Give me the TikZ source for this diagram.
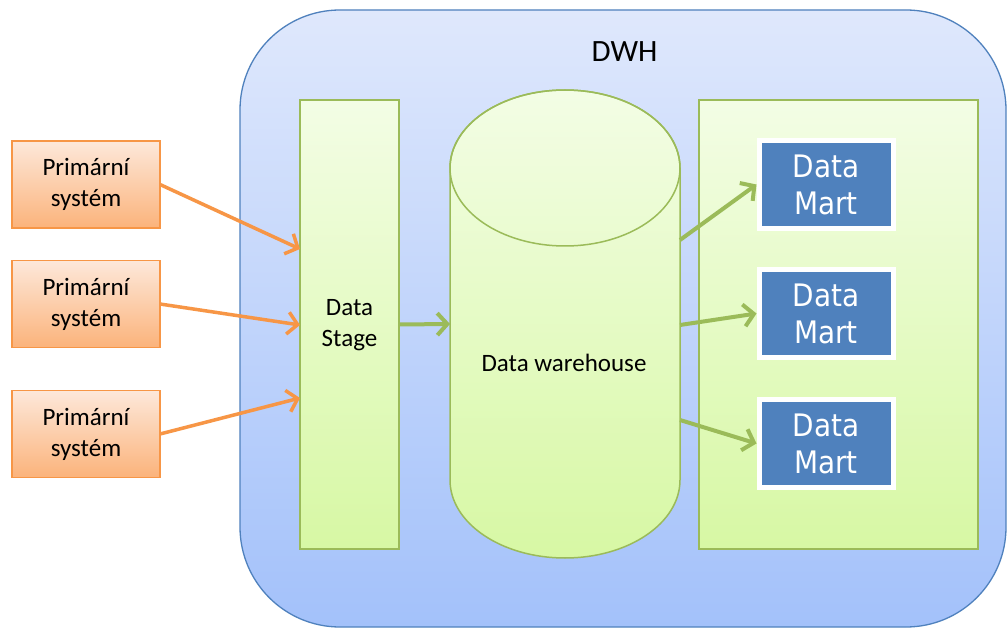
\documentclass[tikz,border=0pt]{standalone}
\usepackage{fontspec}
\setmainfont{Carlito}
\newfontfamily\martfont{DejaVu Sans Condensed}
\usetikzlibrary{arrows.meta}
\definecolor{dwhtop}{HTML}{DFE8FC}
\definecolor{dwhbot}{HTML}{A3C1FA}
\definecolor{dwhline}{HTML}{4F81BD}
\definecolor{grtop}{HTML}{F3FDE5}
\definecolor{grbot}{HTML}{D7F8A4}
\definecolor{grline}{HTML}{9BBB59}
\definecolor{ortop}{HTML}{FDE8DA}
\definecolor{orbot}{HTML}{FBB37B}
\definecolor{orline}{HTML}{F79646}
\definecolor{martblue}{HTML}{4F81BD}
\begin{document}
\begin{tikzpicture}[x=1pt,y=-1pt,
  txt/.style={font=\fontsize{25}{31}\selectfont, align=center},
  srcbox/.style={draw=orline, line width=1.2pt, top color=ortop, bottom color=orbot,
    minimum width=148pt, minimum height=87pt, inner sep=0pt, outer sep=0pt, txt},
  greenbox/.style={draw=grline, line width=1.5pt, top color=grtop, bottom color=grbot,
    inner sep=0pt, outer sep=0pt},
  martbox/.style={draw=white, line width=5pt, fill=martblue, text=white,
    minimum width=134pt, minimum height=88pt, inner sep=0pt,
    font=\martfont\fontsize{31}{37}\selectfont, align=center},
  feed/.style={draw=orline, line width=3.5pt,
    -{Straight Barb[length=10pt,width=22pt]}},
  flow/.style={draw=grline, line width=4pt,
    -{Straight Barb[length=10pt,width=22pt]}}
]
\useasboundingbox (0,0) rectangle (1007,628);
\fill[white] (0,0) rectangle (1007,628);

% DWH container
\node[draw=dwhline, line width=1.3pt, top color=dwhtop, bottom color=dwhbot,
  rounded corners=100pt, minimum width=766pt, minimum height=617pt,
  inner sep=0pt] (dwh) at (623,318.5) {};
\node[font=\fontsize{31}{37}\selectfont] (dwhlabel) at (624.5,52) {DWH};

% staging area
\node[greenbox, minimum width=99pt, minimum height=449pt] (stage) at (349.5,324.5) {};
\node[txt] (stagelabel) at (349.5,325) {Data\\Stage};

% data warehouse cylinder
\shade[top color=grtop, bottom color=grbot, draw=grline, line width=1.5pt]
  (450,168) -- (450,480)
  arc[start angle=180, end angle=0, x radius=115, y radius=78]
  -- (680,168)
  arc[start angle=0, end angle=-180, x radius=115, y radius=78] -- cycle;
\draw[grline, line width=1.5pt] (565,168) ellipse[x radius=115, y radius=78];
\node[inner sep=0pt, outer sep=0pt, minimum width=230pt, minimum height=468pt] (dw) at (565,324) {};
\node[txt] (dwlabel) at (564,363) {Data warehouse};

% data mart area
\node[greenbox, minimum width=279pt, minimum height=449pt] (martarea) at (838.5,324.5) {};
\node[martbox] (mart1) at (826,184.5) {Data\\Mart};
\node[martbox] (mart2) at (826,313.5) {Data\\Mart};
\node[martbox] (mart3) at (826,443.5) {Data\\Mart};

% source systems
\node[srcbox] (src1) at (86,184.5) {Primární\\systém};
\node[srcbox] (src2) at (86,304) {Primární\\systém};
\node[srcbox] (src3) at (86,434) {Primární\\systém};

% connection points
\coordinate (in1) at (stage.west |- 0,249);
\coordinate (in2) at (stage.west |- 0,325);
\coordinate (in3) at (stage.west |- 0,398);
\coordinate (out1) at (dw.east |- 0,240);
\coordinate (out2) at (dw.east |- 0,325);
\coordinate (out3) at (dw.east |- 0,420);

% loading
\draw[feed] (src1.east) -- (in1);
\draw[feed] (src2.east) -- (in2);
\draw[feed] (src3.east) -- (in3);
\draw[flow] (stage.east) -- (dw.west);
\draw[flow] (out1) -- (mart1.west);
\draw[flow] (out2) -- (mart2.west);
\draw[flow] (out3) -- (mart3.west);
\end{tikzpicture}
\end{document}
